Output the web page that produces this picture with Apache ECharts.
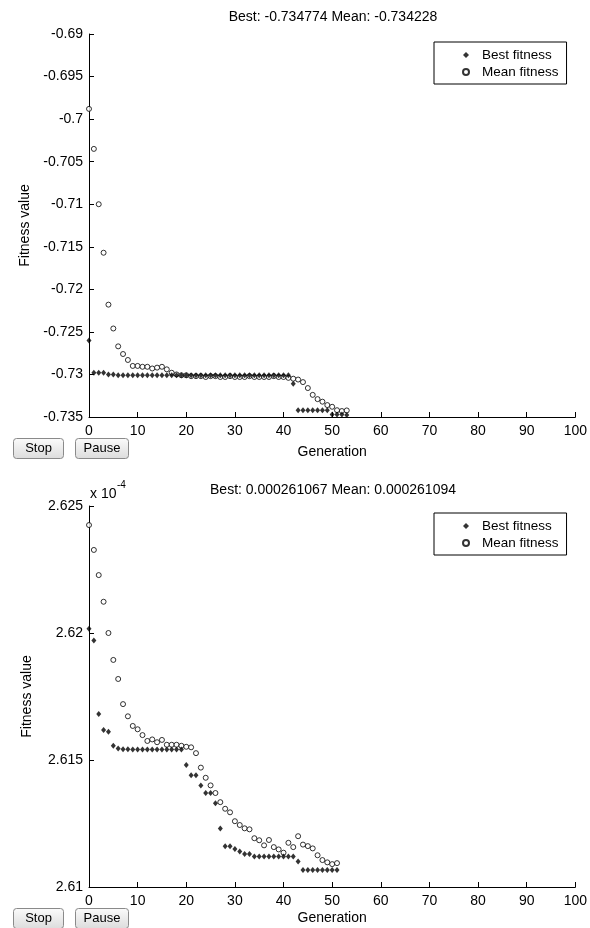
<!DOCTYPE html>
<html>
<head>
<meta charset="utf-8">
<script src="https://cdn.jsdelivr.net/npm/echarts@6/dist/echarts.min.js"></script>
<style>
  html, body { margin: 0; padding: 0; background: #fff; }
  #chart { width: 590px; height: 928px; }
</style>
</head>
<body>
<div id="chart"></div>
<script>
// Run 1: fitness per generation (generations 0..53)
const bestTop = [
  -0.7260, -0.7298, -0.7298, -0.7298, -0.7300, -0.7300, -0.7301, -0.7301, -0.7301, -0.7301,
  -0.7301, -0.7301, -0.7301, -0.7301, -0.7301, -0.7301, -0.7301, -0.7301, -0.7301, -0.7301,
  -0.7301, -0.7301, -0.7301, -0.7301, -0.7301, -0.7301, -0.7301, -0.7301, -0.7301, -0.7301,
  -0.7301, -0.7301, -0.7301, -0.7301, -0.7301, -0.7301, -0.7301, -0.7301, -0.7301, -0.7301,
  -0.7301, -0.7301, -0.7311, -0.7342, -0.7342, -0.7342, -0.7342, -0.7342, -0.7342, -0.7342,
  -0.7347, -0.7347, -0.7347, -0.734774
];
const meanTop = [
  -0.6988, -0.7035, -0.7100, -0.7157, -0.7218, -0.7246, -0.7267, -0.7276, -0.7283, -0.7290,
  -0.7290, -0.7291, -0.7291, -0.7293, -0.7292, -0.7291, -0.7294, -0.7298, -0.7300, -0.7301,
  -0.7301, -0.7302, -0.7302, -0.7302, -0.7303, -0.7302, -0.7302, -0.7303, -0.7303, -0.7302,
  -0.7303, -0.7303, -0.7303, -0.7302, -0.7303, -0.7303, -0.7303, -0.7303, -0.7302, -0.7303,
  -0.7303, -0.7304, -0.7305, -0.7306, -0.7309, -0.7316, -0.7324, -0.7329, -0.7332, -0.7336,
  -0.7338, -0.7342, -0.7343, -0.734228
];

// Run 2: fitness per generation in units of 1e-4 (generations 0..51)
const bestBottom = [
  2.62017, 2.61970, 2.61681, 2.61618, 2.61611, 2.61556, 2.61545, 2.61542, 2.61542, 2.61541,
  2.61541, 2.61541, 2.61541, 2.61541, 2.61541, 2.61541, 2.61541, 2.61541, 2.61541, 2.61541,
  2.61480, 2.61440, 2.61440, 2.61400, 2.61370, 2.61370, 2.61330, 2.61230, 2.61160, 2.61160,
  2.61150, 2.61140, 2.61130, 2.61130, 2.61120, 2.61120, 2.61120, 2.61120, 2.61120, 2.61120,
  2.61120, 2.61120, 2.61120, 2.61100, 2.61067, 2.61067, 2.61067, 2.61067, 2.61067, 2.61067,
  2.61067, 2.61067
];
const meanBottom = [
  2.62425, 2.62327, 2.62228, 2.62123, 2.62000, 2.61894, 2.61819, 2.61720, 2.61672, 2.61634,
  2.61621, 2.61598, 2.61575, 2.61581, 2.61570, 2.61579, 2.61560, 2.61560, 2.61560, 2.61556,
  2.61552, 2.61550, 2.61527, 2.61470, 2.61430, 2.61400, 2.61370, 2.61334, 2.61308, 2.61294,
  2.61259, 2.61244, 2.61231, 2.61227, 2.61192, 2.61184, 2.61164, 2.61185, 2.61157, 2.61148,
  2.61135, 2.61174, 2.61157, 2.61200, 2.61167, 2.61161, 2.61152, 2.61125, 2.61106, 2.61097,
  2.61090, 2.61094
];

const titleTop = 'Best: -0.734774 Mean: -0.734228';
const titleBottom = 'Best: 0.000261067 Mean: 0.000261094';
const seriesNames = ['Best fitness', 'Mean fitness'];

const FONT = '"Liberation Sans", Arial, sans-serif';
const INK = '#000';

const pairs = arr => arr.map((v, g) => [g, v]);
const fmt = v => String(+(+v).toFixed(3));

function xAxisFor(gridIndex, nameGap) {
  return {
    type: 'value', gridIndex, min: 0, max: 100, interval: 10,
    name: 'Generation', nameLocation: 'middle', nameGap,
    nameTextStyle: { color: INK, fontFamily: FONT, fontSize: 14 },
    axisLine: { lineStyle: { color: INK, width: 1 } },
    axisTick: { inside: true, length: 5, lineStyle: { color: INK } },
    axisLabel: { color: INK, fontFamily: FONT, fontSize: 14, margin: 7 },
    splitLine: { show: false }
  };
}
function yAxisFor(gridIndex, min, max) {
  return {
    type: 'value', gridIndex, min, max, interval: 0.005,
    name: 'Fitness value', nameLocation: 'middle', nameGap: 55, nameRotate: 90,
    nameTextStyle: { color: INK, fontFamily: FONT, fontSize: 14 },
    axisLine: { show: true, lineStyle: { color: INK, width: 1 } },
    axisTick: { show: true, inside: true, length: 5, lineStyle: { color: INK } },
    axisLabel: { color: INK, fontFamily: FONT, fontSize: 14, margin: 6, formatter: fmt },
    splitLine: { show: false }
  };
}
function legendAt(top) {
  return {
    orient: 'vertical', left: 434, top,
    padding: [5, 8, 4, 28], itemWidth: 6, itemHeight: 6, itemGap: 1,
    borderColor: INK, borderWidth: 1, backgroundColor: '#fff',
    data: seriesNames, selectedMode: false,
    textStyle: { color: INK, fontFamily: FONT, fontSize: 13.5, lineHeight: 16, padding: [0, 0, 0, 8] }
  };
}
function bestSeries(data, idx) {
  return {
    name: seriesNames[0], type: 'scatter', xAxisIndex: idx, yAxisIndex: idx,
    symbol: 'diamond', symbolSize: [5, 6], data: pairs(data),
    itemStyle: { color: INK }, z: 3, silent: true
  };
}
function meanSeries(data, idx) {
  return {
    name: seriesNames[1], type: 'scatter', xAxisIndex: idx, yAxisIndex: idx,
    symbol: 'circle', symbolSize: 5, data: pairs(data),
    itemStyle: { color: '#fff', borderColor: INK, borderWidth: 1 }, z: 2, silent: true
  };
}
function button(label, x, y, w) {
  return {
    type: 'group', x, y,
    children: [
      { type: 'rect', shape: { x: 0, y: 0, width: w, height: 20, r: 3 },
        style: { fill: { type: 'linear', x: 0, y: 0, x2: 0, y2: 1,
          colorStops: [{ offset: 0, color: '#fbfbfb' }, { offset: 1, color: '#dcdcdc' }] },
          stroke: '#8a8a8a', lineWidth: 1 } },
      { type: 'text', x: w / 2, y: 10,
        style: { text: label, fill: INK, font: '13px ' + FONT, align: 'center', verticalAlign: 'middle' } }
    ]
  };
}

const chart = echarts.init(document.getElementById('chart'), null, { renderer: 'canvas' });
chart.setOption({
  animation: false,
  backgroundColor: '#fff',
  title: [
    { text: titleTop, left: 333, top: 10, textAlign: 'center', padding: 0,
      textStyle: { color: INK, fontFamily: FONT, fontSize: 14, fontWeight: 'normal' } },
    { text: titleBottom, left: 333, top: 483, textAlign: 'center', padding: 0,
      textStyle: { color: INK, fontFamily: FONT, fontSize: 14, fontWeight: 'normal' } }
  ],
  legend: [legendAt(42), legendAt(513)],
  grid: [
    { left: 89, top: 34, width: 488, height: 383, containLabel: false },
    { left: 89, top: 506, width: 488, height: 381, containLabel: false }
  ],
  xAxis: [xAxisFor(0, 28), xAxisFor(1, 24)],
  yAxis: [yAxisFor(0, -0.735, -0.69), yAxisFor(1, 2.61, 2.625)],
  series: [
    bestSeries(bestTop, 0), meanSeries(meanTop, 0),
    bestSeries(bestBottom, 1), meanSeries(meanBottom, 1)
  ],
  graphic: [
    { type: 'text', left: 90, top: 487, style: { text: 'x 10', fill: INK, font: '14px ' + FONT } },
    { type: 'text', left: 117, top: 480, style: { text: '-4', fill: INK, font: '10px ' + FONT } },
    button('Stop', 13.5, 438.5, 50), button('Pause', 75.5, 438.5, 53),
    button('Stop', 13.5, 908.5, 50), button('Pause', 75.5, 908.5, 53)
  ]
});
</script>
</body>
</html>
